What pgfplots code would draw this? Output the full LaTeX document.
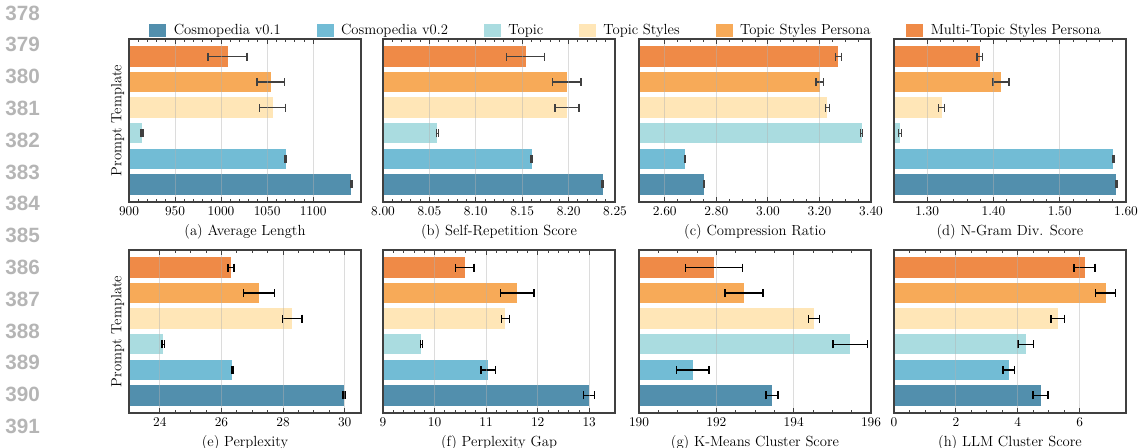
\documentclass[border=0pt]{standalone}
\usepackage{pgfplots}
\pgfplotsset{compat=1.18}
\usepackage{fontspec}
\newfontfamily\linenofont{Liberation Sans}
\definecolor{cA}{HTML}{528FAD}
\definecolor{cB}{HTML}{72BCD5}
\definecolor{cC}{HTML}{AADCE0}
\definecolor{cD}{HTML}{FFE6B7}
\definecolor{cE}{HTML}{F7AA58}
\definecolor{cF}{HTML}{EF8A47}
\newcommand\hb[4]{\addplot[xbar, bar shift=0pt, fill=#1, draw=none, forget plot,
  error bars/.cd, x dir=both, x explicit] coordinates {(#3,#2) +- (#4,0)};}
\pgfplotsset{
  myax/.style={
    scale only axis, width=174pt, height=122.25pt,
    bar width=0.8,
    ymin=-0.69, ymax=5.69, ytick=\empty,
    axis on top,
    xmajorgrids,
    major grid style={draw=gray!60, opacity=0.45, line width=0.8pt},
    axis line style={black!75, line width=0.8pt},
    tick style={black!75, line width=0.6pt},
    major tick length=4pt, minor tick length=2pt,
    scaled x ticks=false,
    tick label style={font=\fontsize{10}{12}\selectfont},
    label style={font=\fontsize{11}{13}\selectfont},
    xticklabel style={/pgf/number format/1000 sep={}},
    error bars/error bar style={line width=1.1pt, draw=black!75},
    error bars/error mark options={rotate=90, line width=1.1pt, mark size=3pt, draw=black!75},
  },
  myaxb/.style={myax,
    error bars/error bar style={line width=1.1pt, draw=black},
    error bars/error mark options={rotate=90, line width=1.1pt, mark size=3pt, draw=black},
  },
  twodec/.style={xticklabel style={/pgf/number format/.cd, fixed, fixed zerofill, precision=2}},
}
\begin{document}
\begin{tikzpicture}
\useasboundingbox (0,0) rectangle (854.25pt,336pt);
% line numbers
\foreach \n [count=\i from 0] in {378,379,380,381,382,383,384,385,386,387,388,389,390,391}{
  \node[text=black!29, font=\linenofont\fontsize{15.5}{16}\selectfont\bfseries] at (16.9pt, {(448-13-31.8*\i)*0.75pt}) {\n};
}
% (a)
\begin{axis}[myax, at={(96.75pt,184.5pt)}, anchor=south west,
  xmin=900, xmax=1152, xtick={900,950,1000,1050,1100}, minor x tick num=4,
  xlabel={(a) Average Length}, ylabel={Prompt Template},
  legend columns=6,
  legend style={draw=none, fill=none, at={(2.144,1.05)}, anchor=center,
    font=\fontsize{11}{13}\selectfont,
    /tikz/every even column/.append style={column sep=25pt}},
  legend image code/.code={\fill[#1] (0pt,-5pt) rectangle (12.75pt,5pt); \path (16.25pt,0pt);},
  ]
\hb{cA}{0}{1141.6}{0.8}
\hb{cB}{1}{1070}{0.8}
\hb{cC}{2}{914}{1.2}
\hb{cD}{3}{1056}{14}
\hb{cE}{4}{1054}{15}
\hb{cF}{5}{1007}{21}
\addlegendimage{fill=cA, draw=none}\addlegendentry{Cosmopedia v0.1}
\addlegendimage{fill=cB, draw=none}\addlegendentry{Cosmopedia v0.2}
\addlegendimage{fill=cC, draw=none}\addlegendentry{Topic}
\addlegendimage{fill=cD, draw=none}\addlegendentry{Topic Styles}
\addlegendimage{fill=cE, draw=none}\addlegendentry{Topic Styles Persona}
\addlegendimage{fill=cF, draw=none}\addlegendentry{Multi-Topic Styles Persona}
\end{axis}
% (b)
\begin{axis}[myax, twodec, at={(287.25pt,184.5pt)}, anchor=south west,
  xmin=8.0, xmax=8.25, xtick={8.00,8.05,8.10,8.15,8.20,8.25}, minor x tick num=4,
  xlabel={(b) Self-Repetition Score}]
\hb{cA}{0}{8.2367}{0.0005}
\hb{cB}{1}{8.1604}{0.0008}
\hb{cC}{2}{8.0586}{0.0012}
\hb{cD}{3}{8.1982}{0.0128}
\hb{cE}{4}{8.1982}{0.0153}
\hb{cF}{5}{8.1536}{0.0207}
\end{axis}
% (c)
\begin{axis}[myax, twodec, at={(479.25pt,184.5pt)}, anchor=south west,
  xmin=2.5, xmax=3.4, xtick={2.6,2.8,3.0,3.2,3.4}, minor x tick num=3,
  xlabel={(c) Compression Ratio}]
\hb{cA}{0}{2.751}{0.001}
\hb{cB}{1}{2.678}{0.002}
\hb{cC}{2}{3.3636}{0.004}
\hb{cD}{3}{3.231}{0.007}
\hb{cE}{4}{3.201}{0.014}
\hb{cF}{5}{3.2738}{0.012}
\end{axis}
% (d)
\begin{axis}[myax, twodec, at={(670.5pt,184.5pt)}, anchor=south west,
  xmin=1.25, xmax=1.60, xtick={1.3,1.4,1.5,1.6}, minor x tick num=4,
  xlabel={(d) N-Gram Div. Score}]
\hb{cA}{0}{1.5854}{0.0012}
\hb{cB}{1}{1.5809}{0.0012}
\hb{cC}{2}{1.2587}{0.0023}
\hb{cD}{3}{1.3217}{0.0043}
\hb{cE}{4}{1.4114}{0.0124}
\hb{cF}{5}{1.3792}{0.004}
\end{axis}
% (e)
\begin{axis}[myaxb, at={(96.75pt,26.25pt)}, anchor=south west,
  xmin=23, xmax=30.53, xtick={24,26,28,30}, minor x tick num=3,
  xlabel={(e) Perplexity}, ylabel={Prompt Template}]
\hb{cA}{0}{29.98}{0.03}
\hb{cB}{1}{26.35}{0.03}
\hb{cC}{2}{24.11}{0.04}
\hb{cD}{3}{28.30}{0.32}
\hb{cE}{4}{27.22}{0.50}
\hb{cF}{5}{26.31}{0.10}
\end{axis}
% (f)
\begin{axis}[myaxb, at={(287.25pt,26.25pt)}, anchor=south west,
  xmin=9, xmax=13.5, xtick={9,10,11,12,13}, minor x tick num=4,
  xlabel={(f) Perplexity Gap}]
\hb{cA}{0}{12.994}{0.11}
\hb{cB}{1}{11.045}{0.142}
\hb{cC}{2}{9.744}{0.02}
\hb{cD}{3}{11.375}{0.078}
\hb{cE}{4}{11.608}{0.325}
\hb{cF}{5}{10.586}{0.175}
\end{axis}
% (g)
\begin{axis}[myaxb, at={(479.25pt,26.25pt)}, anchor=south west,
  xmin=190, xmax=196, xtick={190,192,194,196}, minor x tick num=3,
  xlabel={(g) K-Means Cluster Score}]
\hb{cA}{0}{193.44}{0.155}
\hb{cB}{1}{191.39}{0.42}
\hb{cC}{2}{195.46}{0.445}
\hb{cD}{3}{194.53}{0.14}
\hb{cE}{4}{192.715}{0.49}
\hb{cF}{5}{191.937}{0.74}
\end{axis}
% (h)
\begin{axis}[myaxb, at={(670.5pt,26.25pt)}, anchor=south west,
  xmin=0, xmax=7.5, xtick={0,2,4,6}, minor x tick num=3,
  xlabel={(h) LLM Cluster Score}]
\hb{cA}{0}{4.74}{0.242}
\hb{cB}{1}{3.706}{0.19}
\hb{cC}{2}{4.255}{0.253}
\hb{cD}{3}{5.29}{0.22}
\hb{cE}{4}{6.84}{0.318}
\hb{cF}{5}{6.16}{0.334}
\end{axis}
\end{tikzpicture}
\end{document}
